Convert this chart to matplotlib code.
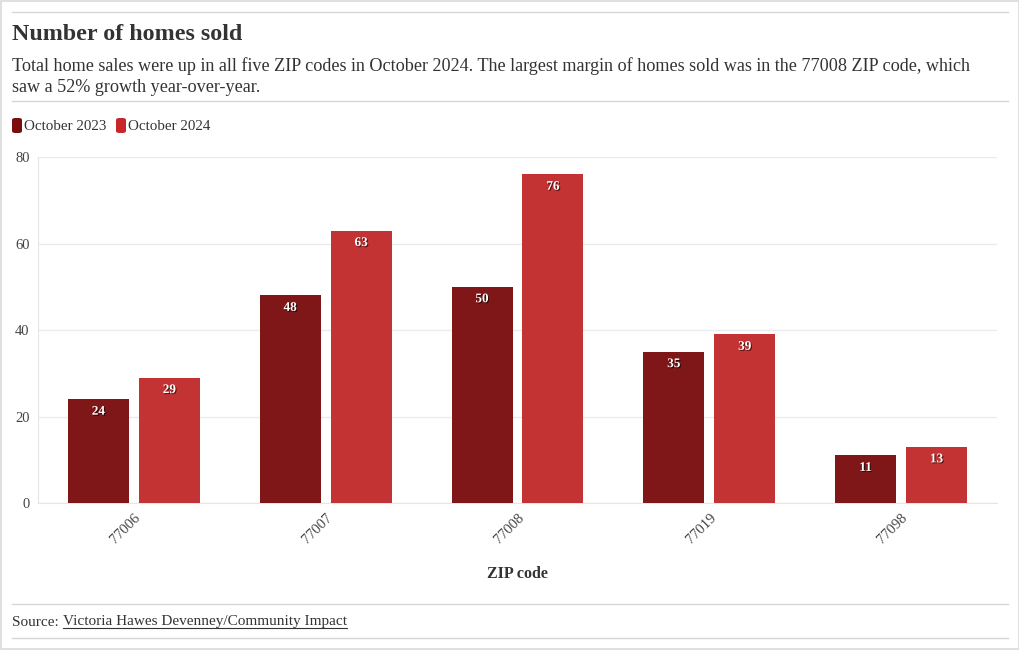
import matplotlib.pyplot as plt
import matplotlib.patheffects as pe
from matplotlib.patches import FancyBboxPatch
from matplotlib.lines import Line2D
import numpy as np

plt.rcParams['font.family'] = ['Liberation Serif', 'DejaVu Serif']

zip_codes = ['77006', '77007', '77008', '77019', '77098']
sold_2023 = [24, 48, 50, 35, 11]
sold_2024 = [29, 63, 76, 39, 13]
series_names = ['October 2023', 'October 2024']
colors = ['#7f1718', '#c43333']
legend_colors = ['#7a0e0e', '#c8262a']

W, H = 1020, 650
fig = plt.figure(figsize=(W / 100, H / 100), dpi=100)

def fx(px):
    return px / W

def fy(py):
    return 1 - py / H

# outer frame
fig.patches.append(plt.Rectangle((0.001, 0.001), 0.998, 0.997, transform=fig.transFigure,
                                 fill=False, edgecolor='#d9d9d9', linewidth=1.2))

# separator lines
for py in [12, 101, 604, 638]:
    fig.add_artist(Line2D([fx(12), fx(1008)], [fy(py), fy(py)], transform=fig.transFigure,
                          color='#d6d6d6', linewidth=1))

fig.text(fx(12), fy(35), 'Number of homes sold', fontsize=17.3, fontweight='bold',
         color='#333333', va='center', ha='left')
fig.text(fx(12), fy(66), 'Total home sales were up in all five ZIP codes in October 2024. The largest margin of homes sold was in the 77008 ZIP code, which',
         fontsize=13.1, color='#333333', va='center', ha='left')
fig.text(fx(12), fy(88), 'saw a 52% growth year-over-year.',
         fontsize=13.1, color='#333333', va='center', ha='left')

# legend
lx = 12
for name, c in zip(series_names, legend_colors):
    fig.patches.append(FancyBboxPatch((fx(lx), fy(133)), fx(10), 15 / H,
                                      boxstyle='round,pad=0,rounding_size=0.003',
                                      transform=fig.transFigure, facecolor=c, edgecolor='none'))
    fig.text(fx(lx + 12), fy(127), name, fontsize=10.8, color='#333333', va='center', ha='left')
    lx += 104

ax = fig.add_axes([fx(38), fy(503), fx(997 - 38), (503 - 157) / H])
x = np.arange(len(zip_codes))
bw = 0.318
off = 0.185
for vals, c, sign in [(sold_2023, colors[0], -1), (sold_2024, colors[1], 1)]:
    bars = ax.bar(x + sign * off, vals, width=bw, color=c, zorder=3)
    for b, v in zip(bars, vals):
        ax.text(b.get_x() + b.get_width() / 2, v - 1.5, str(v), ha='center', va='top',
                fontsize=9.5, fontweight='bold', color='white', zorder=4,
                path_effects=[pe.withSimplePatchShadow(offset=(0.8, -0.8), shadow_rgbFace='#000000', alpha=0.6)])

ax.set_xlim(-0.5, len(zip_codes) - 0.5)
ax.set_ylim(0, 80)
ax.set_yticks([0, 20, 40, 60, 80])
ax.grid(axis='y', color='#ebebeb', linewidth=1, zorder=0)
for s in ['top', 'right']:
    ax.spines[s].set_visible(False)
ax.spines['left'].set_color('#e6e6e6')
ax.spines['bottom'].set_color('#e6e6e6')
ax.tick_params(axis='y', length=0, labelsize=10.5, labelcolor='#444444', pad=6)
ax.tick_params(axis='x', length=0, labelsize=10.5, labelcolor='#444444', pad=6)
ax.set_xticks(x)
ax.set_xticklabels(zip_codes, rotation=45, ha='right', rotation_mode='anchor')
ax.set_xlabel('ZIP code', fontsize=11.5, fontweight='bold', color='#333333', labelpad=14)

# source line with underlined link
t1 = fig.text(fx(12), fy(622), 'Source: ', fontsize=11, color='#333333', va='center', ha='left')
fig.canvas.draw()
r = fig.canvas.get_renderer()
bb = t1.get_window_extent(r)
t2 = fig.text(bb.x1 / W, fy(622), 'Victoria Hawes Devenney/Community Impact', fontsize=11,
              color='#333333', va='center', ha='left')
bb2 = t2.get_window_extent(r)
fig.add_artist(Line2D([bb2.x0 / W, bb2.x1 / W], [(bb2.y0 + 1) / H, (bb2.y0 + 1) / H],
                      transform=fig.transFigure, color='#333333', linewidth=0.8))

fig.savefig('out.png', dpi=100)
